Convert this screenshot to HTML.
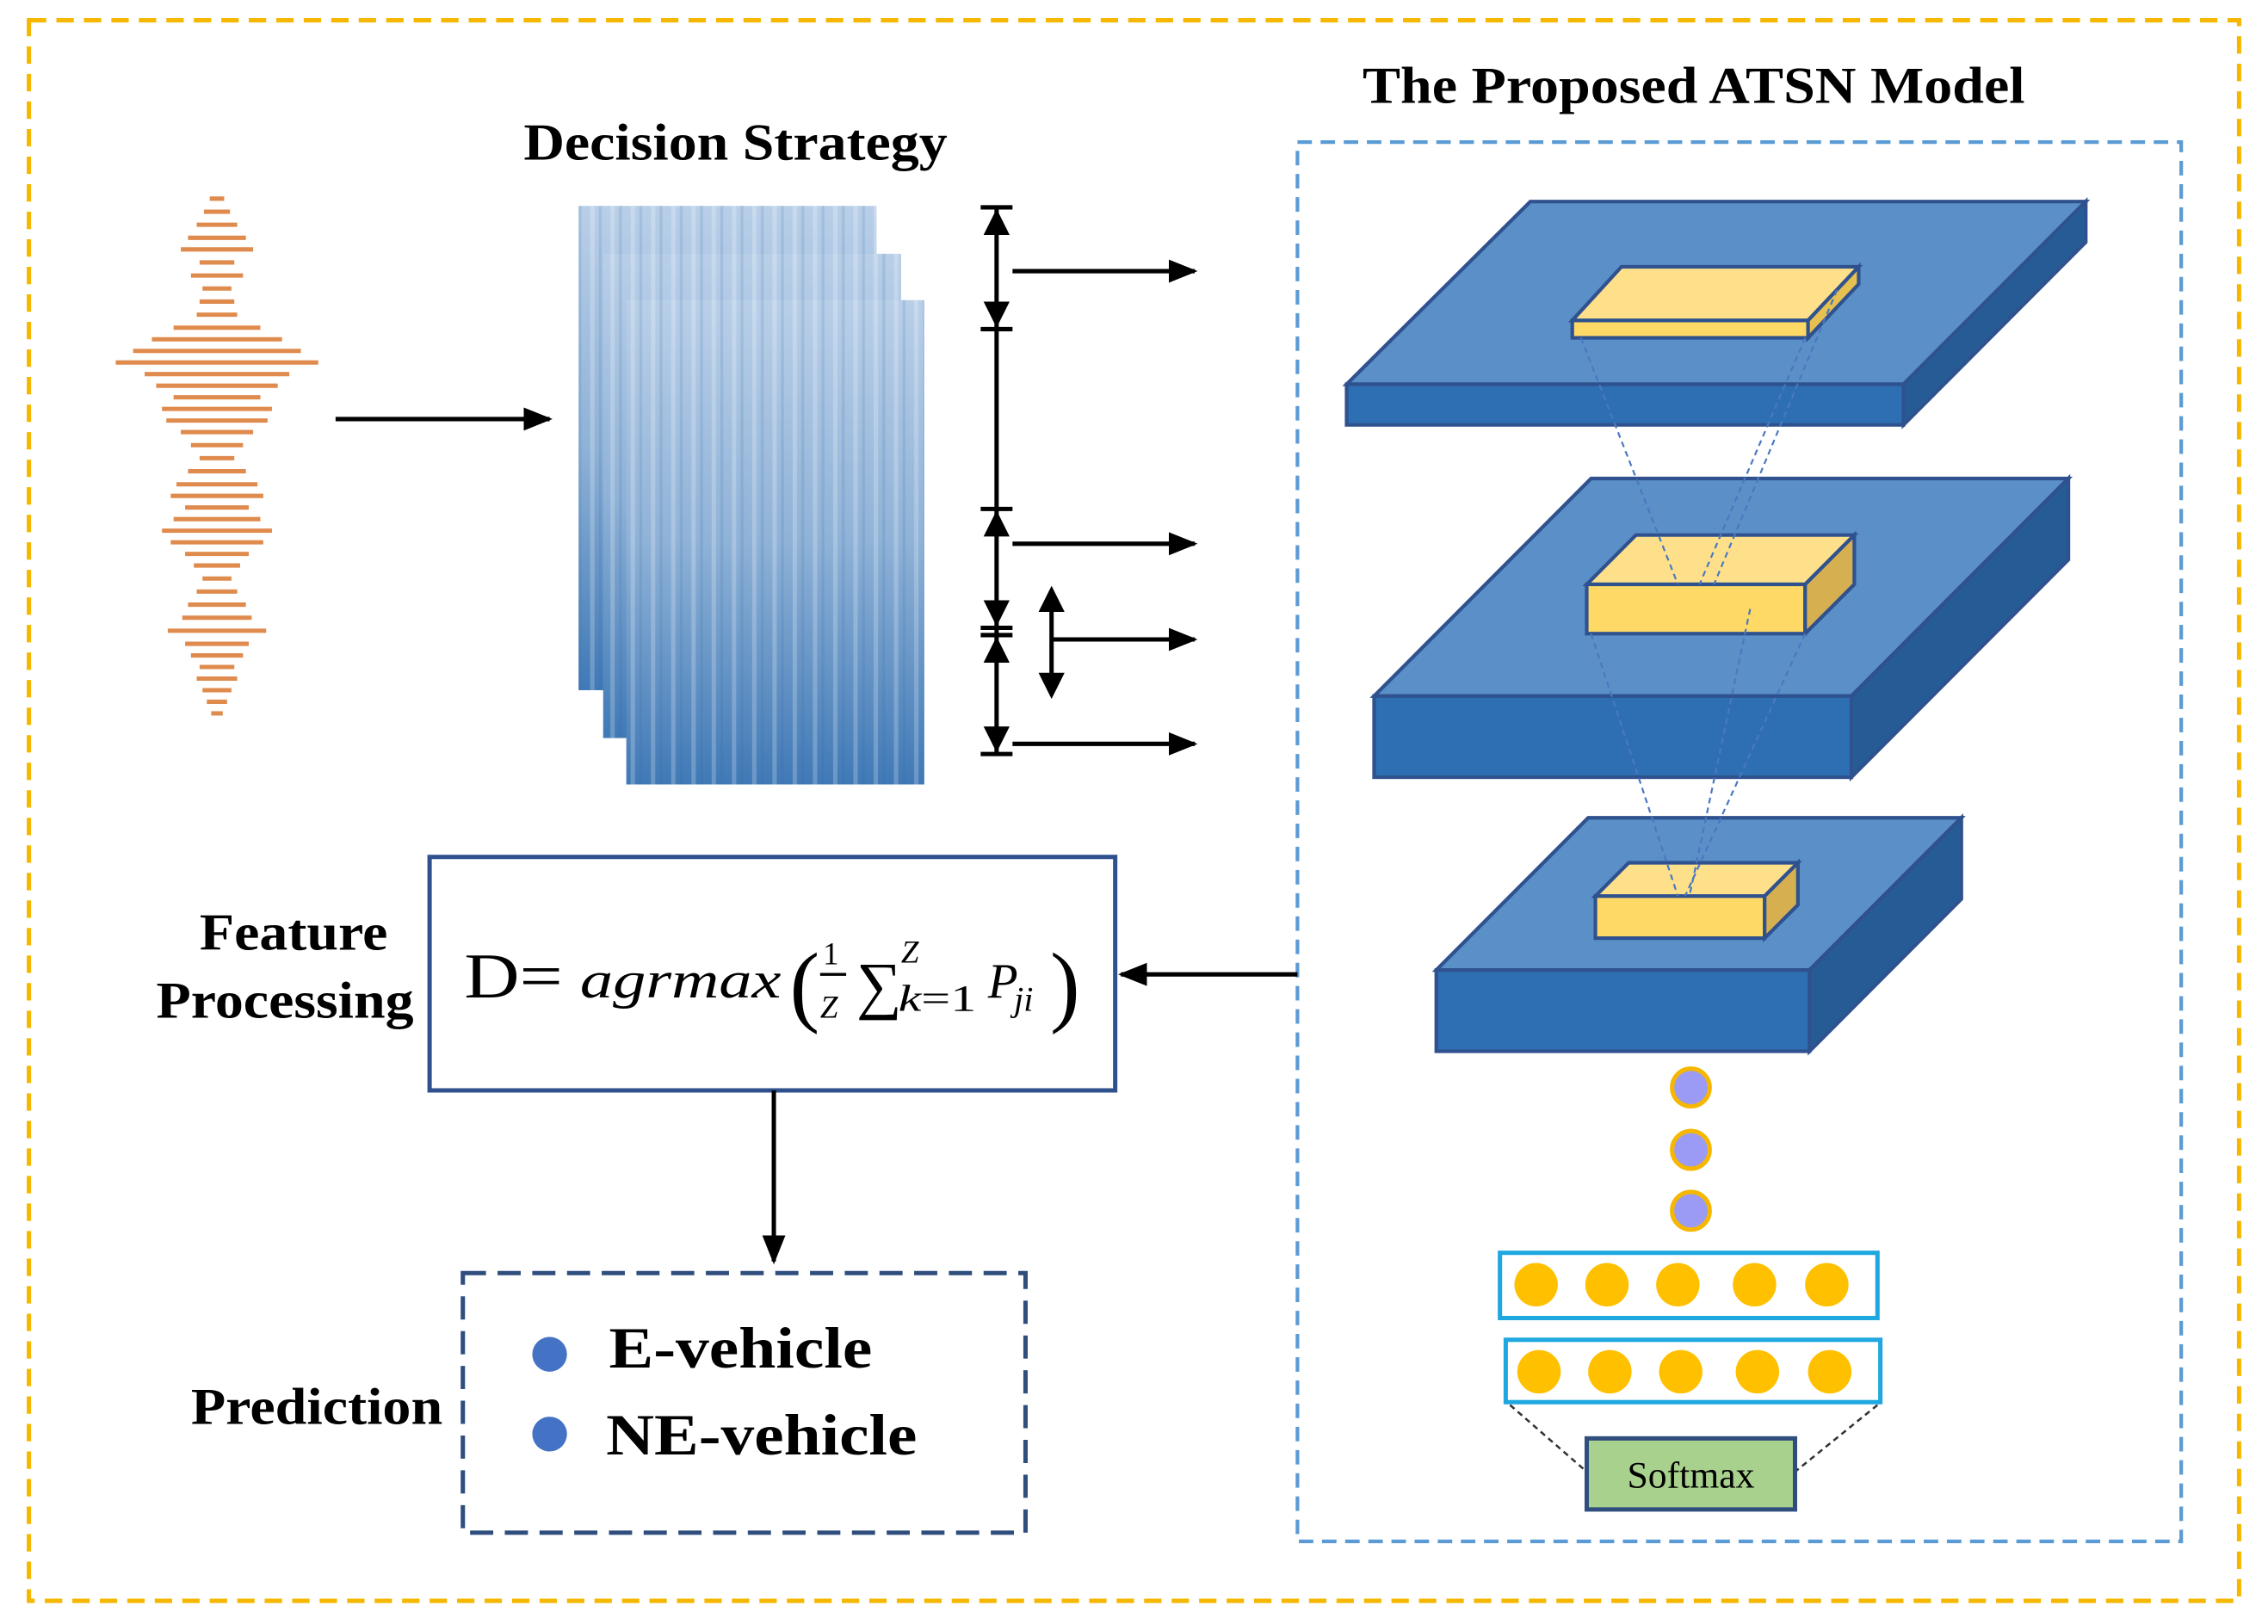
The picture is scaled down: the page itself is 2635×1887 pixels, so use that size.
<!DOCTYPE html>
<html><head><meta charset="utf-8">
<style>
html,body{margin:0;padding:0;background:#fff;}
svg{display:block;}
</style></head>
<body>
<svg width="2635" height="1887" viewBox="0 0 1568 1120" preserveAspectRatio="none" xmlns="http://www.w3.org/2000/svg" font-family="'Liberation Serif', serif">
<defs>
<linearGradient id="spec" x1="0" y1="0" x2="0" y2="1">
<stop offset="0" stop-color="#b9cfe8"/><stop offset="0.5" stop-color="#8fb2d7"/><stop offset="1" stop-color="#4079b6"/>
</linearGradient>
<pattern id="streak" width="14" height="20" patternUnits="userSpaceOnUse">
<rect x="2" width="3" height="20" fill="#ffffff" opacity="0.22"/>
<rect x="8" width="2" height="20" fill="#2f669d" opacity="0.15"/>
</pattern>
<marker id="ah2" markerWidth="20" markerHeight="16" refX="18" refY="8" orient="auto" markerUnits="userSpaceOnUse">
<path d="M0,0 L20,8 L0,16 z" fill="#000"/></marker>
</defs>
<rect x="20" y="14" width="1528" height="1090" fill="none" stroke="#f5b700" stroke-width="3" stroke-dasharray="12,7"/>
<rect x="897" y="98" width="611" height="965" fill="none" stroke="#5b9bd5" stroke-width="2.5" stroke-dasharray="10,6"/>
<text x="942" y="71" font-size="36" font-weight="bold" textLength="458" lengthAdjust="spacingAndGlyphs">The Proposed ATSN Model</text>
<text x="362" y="110" font-size="36" font-weight="bold" textLength="293" lengthAdjust="spacingAndGlyphs">Decision Strategy</text>
<!-- waveform -->
<g stroke="#e08b4e" stroke-width="3">
<line x1="145" y1="137" x2="155" y2="137"/><line x1="141" y1="146" x2="159" y2="146"/><line x1="136" y1="155" x2="164" y2="155"/>
<line x1="130" y1="164" x2="170" y2="164"/><line x1="125" y1="172" x2="175" y2="172"/><line x1="138" y1="181" x2="162" y2="181"/>
<line x1="132" y1="190" x2="168" y2="190"/><line x1="140" y1="199" x2="160" y2="199"/><line x1="138" y1="208" x2="162" y2="208"/>
<line x1="136" y1="217" x2="164" y2="217"/><line x1="120" y1="226" x2="180" y2="226"/><line x1="105" y1="234" x2="195" y2="234"/>
<line x1="92" y1="242" x2="208" y2="242"/><line x1="80" y1="250" x2="220" y2="250"/><line x1="100" y1="258" x2="200" y2="258"/>
<line x1="108" y1="266" x2="192" y2="266"/><line x1="120" y1="274" x2="180" y2="274"/><line x1="112" y1="282" x2="188" y2="282"/>
<line x1="115" y1="290" x2="185" y2="290"/><line x1="125" y1="298" x2="175" y2="298"/><line x1="132" y1="307" x2="168" y2="307"/>
<line x1="138" y1="316" x2="162" y2="316"/><line x1="130" y1="325" x2="170" y2="325"/><line x1="122" y1="334" x2="178" y2="334"/>
<line x1="118" y1="342" x2="182" y2="342"/><line x1="128" y1="350" x2="172" y2="350"/><line x1="120" y1="358" x2="180" y2="358"/>
<line x1="112" y1="366" x2="188" y2="366"/><line x1="118" y1="374" x2="182" y2="374"/><line x1="128" y1="382" x2="172" y2="382"/>
<line x1="134" y1="390" x2="166" y2="390"/><line x1="140" y1="399" x2="160" y2="399"/><line x1="136" y1="408" x2="164" y2="408"/>
<line x1="130" y1="417" x2="170" y2="417"/><line x1="126" y1="426" x2="174" y2="426"/><line x1="116" y1="435" x2="184" y2="435"/>
<line x1="128" y1="444" x2="172" y2="444"/><line x1="132" y1="452" x2="168" y2="452"/><line x1="138" y1="460" x2="162" y2="460"/>
<line x1="136" y1="468" x2="164" y2="468"/><line x1="140" y1="476" x2="160" y2="476"/><line x1="143" y1="484" x2="157" y2="484"/>
<line x1="146" y1="492" x2="154" y2="492"/>
</g>
<line x1="232" y1="289" x2="380" y2="289" stroke="#000" stroke-width="3" marker-end="url(#ah2)"/>
<!-- spectrogram -->
<rect x="400" y="142" width="206" height="334" fill="url(#spec)"/><rect x="400" y="142" width="206" height="334" fill="url(#streak)"/>
<rect x="417" y="175" width="206" height="334" fill="url(#spec)"/><rect x="417" y="175" width="206" height="334" fill="url(#streak)"/>
<rect x="433" y="207" width="206" height="334" fill="url(#spec)"/><rect x="433" y="207" width="206" height="334" fill="url(#streak)"/>
<!-- brackets -->
<g stroke="#000" stroke-width="3">
<line x1="689" y1="142" x2="689" y2="520"/>
<line x1="678" y1="143" x2="700" y2="143"/><line x1="678" y1="227" x2="700" y2="227"/>
<line x1="678" y1="351" x2="700" y2="351"/><line x1="678" y1="433" x2="700" y2="433"/><line x1="678" y1="438" x2="700" y2="438"/>
<line x1="678" y1="520" x2="700" y2="520"/>
</g>
<g fill="#000">
<path d="M680,162 L689,144 L698,162z"/><path d="M680,208 L689,226 L698,208z"/>
<path d="M680,370 L689,352 L698,370z"/><path d="M680,414 L689,432 L698,414z"/>
<path d="M680,457 L689,439 L698,457z"/><path d="M680,501 L689,519 L698,501z"/>
<path d="M718,422 L727,404 L736,422z"/><path d="M718,464 L727,482 L736,464z"/>
</g>
<line x1="727" y1="415" x2="727" y2="470" stroke="#000" stroke-width="3"/>
<g stroke="#000" stroke-width="3">
<line x1="700" y1="187" x2="826" y2="187" marker-end="url(#ah2)"/>
<line x1="700" y1="375" x2="826" y2="375" marker-end="url(#ah2)"/>
<line x1="727" y1="441" x2="826" y2="441" marker-end="url(#ah2)"/>
<line x1="700" y1="513" x2="826" y2="513" marker-end="url(#ah2)"/>
</g>
<!-- slabs -->
<g stroke="#2f528f" stroke-width="2.5">
<polygon points="931,265 1058,139 1442,139 1316,265" fill="#5b8fc7"/>
<rect x="931" y="265" width="385" height="28" fill="#2e6fb3"/>
<polygon points="1316,265 1442,139 1442,167 1316,293" fill="#265c95"/>
<polygon points="950,480 1100,330 1430,330 1280,480" fill="#5b8fc7"/>
<rect x="950" y="480" width="330" height="56" fill="#2e6fb3"/>
<polygon points="1280,480 1430,330 1430,386 1280,536" fill="#265c95"/>
<polygon points="993,669 1098,564 1356,564 1251,669" fill="#5b8fc7"/>
<rect x="993" y="669" width="258" height="56" fill="#2e6fb3"/>
<polygon points="1251,669 1356,564 1356,620 1251,725" fill="#265c95"/>
</g>
<g stroke="#2f528f" stroke-width="2.5">
<polygon points="1087,221 1121,184 1285,184 1250,221" fill="#ffe08a"/>
<rect x="1087" y="221" width="163" height="12" fill="#ffd966"/>
<polygon points="1250,221 1285,184 1285,196 1250,233" fill="#e6c050"/>
<polygon points="1097,403 1131,369 1282,369 1248,403" fill="#ffe08a"/>
<rect x="1097" y="403" width="151" height="34" fill="#ffd966"/>
<polygon points="1248,403 1282,369 1282,403 1248,437" fill="#d6b050"/>
<polygon points="1103,618 1126,595 1243,595 1220,618" fill="#ffe08a"/>
<rect x="1103" y="618" width="117" height="29" fill="#ffd966"/>
<polygon points="1220,618 1243,595 1243,624 1220,647" fill="#d6b050"/>
</g>
<g stroke="#4a78c0" stroke-width="1.3" stroke-dasharray="4,3" fill="none">
<line x1="1093" y1="233" x2="1160" y2="403"/><line x1="1248" y1="233" x2="1175" y2="403"/>
<line x1="1270" y1="200" x2="1185" y2="403"/><line x1="1100" y1="437" x2="1160" y2="618"/>
<line x1="1248" y1="437" x2="1165" y2="618"/><line x1="1210" y1="420" x2="1168" y2="618"/>
</g>
<g fill="#9b9bf5" stroke="#f5b700" stroke-width="3">
<circle cx="1169" cy="750" r="13"/><circle cx="1169" cy="793" r="13"/><circle cx="1169" cy="835" r="13"/>
</g>
<rect x="1037" y="864" width="261" height="45" fill="none" stroke="#1fa7e0" stroke-width="3"/>
<rect x="1041" y="924" width="259" height="43" fill="none" stroke="#1fa7e0" stroke-width="3"/>
<g fill="#ffc000">
<circle cx="1062" cy="886" r="15"/><circle cx="1111" cy="886" r="15"/><circle cx="1160" cy="886" r="15"/><circle cx="1213" cy="886" r="15"/><circle cx="1263" cy="886" r="15"/>
<circle cx="1064" cy="946" r="15"/><circle cx="1113" cy="946" r="15"/><circle cx="1162" cy="946" r="15"/><circle cx="1215" cy="946" r="15"/><circle cx="1265" cy="946" r="15"/>
</g>
<g stroke="#333" stroke-width="1.5" stroke-dasharray="4,3">
<line x1="1044" y1="969" x2="1097" y2="1015"/><line x1="1298" y1="969" x2="1241" y2="1015"/>
</g>
<rect x="1097" y="992" width="144" height="49" fill="#a9d18e" stroke="#2f4e7e" stroke-width="3"/>
<text x="1169" y="1026" font-size="26" text-anchor="middle">Softmax</text>
<!-- feature processing -->
<line x1="897" y1="672" x2="775" y2="672" stroke="#000" stroke-width="3" marker-end="url(#ah2)"/>
<rect x="297" y="591" width="474" height="161" fill="#fff" stroke="#2f528f" stroke-width="3"/>
<text x="138" y="655" font-size="36" font-weight="bold" textLength="130" lengthAdjust="spacingAndGlyphs">Feature</text>
<text x="108" y="702" font-size="36" font-weight="bold" textLength="178" lengthAdjust="spacingAndGlyphs">Processing</text>
<text x="321" y="688" font-size="44" textLength="68" lengthAdjust="spacingAndGlyphs">D=</text>
<text x="401" y="688" font-size="36" font-style="italic" textLength="139" lengthAdjust="spacingAndGlyphs">agrmax</text>
<text x="546" y="700" font-size="62">(</text>
<text x="569" y="665" font-size="22">1</text>
<line x1="567" y1="672" x2="585" y2="672" stroke="#000" stroke-width="2"/>
<text x="567" y="702" font-size="22" font-style="italic">Z</text>
<text x="592" y="694" font-size="44">∑</text>
<text x="623" y="664" font-size="22" font-style="italic">Z</text>
<text x="621" y="697" font-size="26" textLength="54" lengthAdjust="spacingAndGlyphs"><tspan font-style="italic">k</tspan>=1</text>
<text x="683" y="688" font-size="34" font-style="italic">P</text>
<text x="701" y="697" font-size="24" font-style="italic">ji</text>
<text x="726" y="700" font-size="62">)</text>
<line x1="535" y1="752" x2="535" y2="870" stroke="#000" stroke-width="3" marker-end="url(#ah2)"/>
<!-- prediction -->
<rect x="320" y="878" width="389" height="179" fill="none" stroke="#2f4e7e" stroke-width="3" stroke-dasharray="16,8"/>
<text x="132" y="982" font-size="36" font-weight="bold" textLength="174" lengthAdjust="spacingAndGlyphs">Prediction</text>
<circle cx="380" cy="934" r="12" fill="#4472c4"/>
<circle cx="380" cy="989" r="12" fill="#4472c4"/>
<text x="421" y="943" font-size="40" font-weight="bold" textLength="182" lengthAdjust="spacingAndGlyphs">E-vehicle</text>
<text x="419" y="1003" font-size="40" font-weight="bold" textLength="215" lengthAdjust="spacingAndGlyphs">NE-vehicle</text>
</svg>
</body></html>
